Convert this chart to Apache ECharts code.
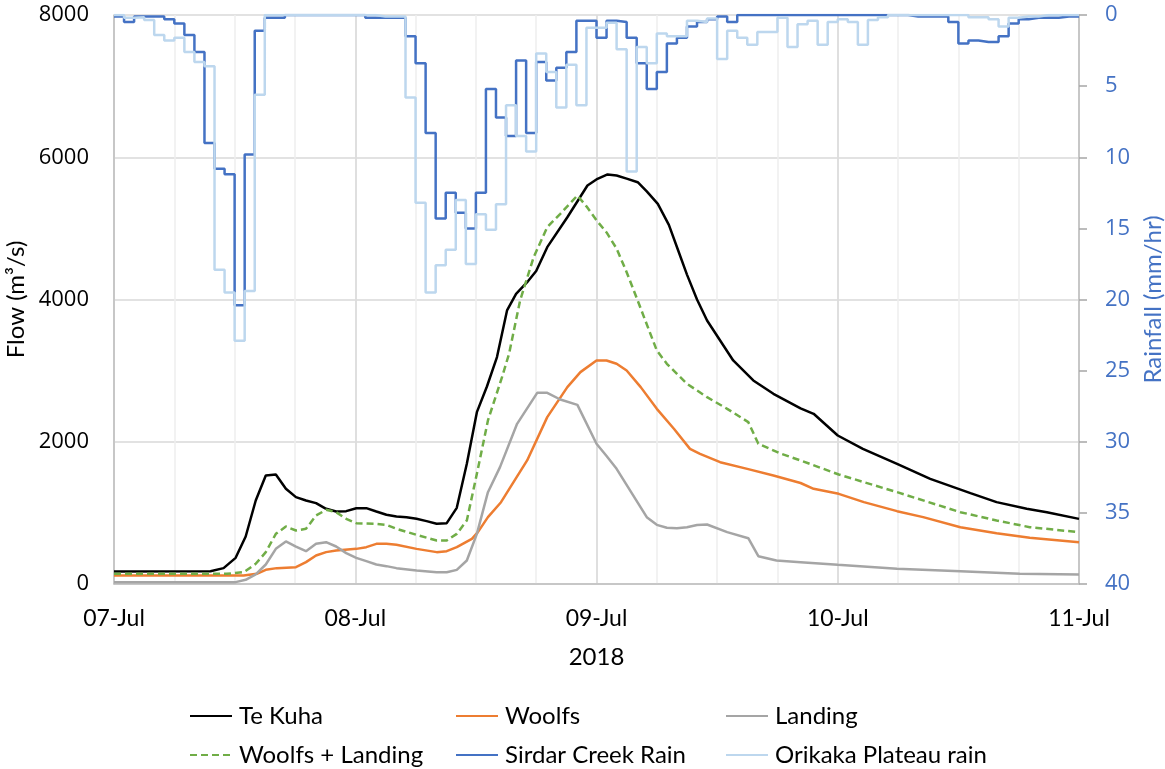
<!DOCTYPE html>
<html>
<head>
<meta charset="utf-8">
<script src="https://cdn.jsdelivr.net/npm/echarts@6/dist/echarts.min.js"></script>
<style>
html,body{margin:0;padding:0;background:#fff;}
#chart{width:1165px;height:769px;}
</style>
</head>
<body>
<div id="chart"></div>
<script>
// Time axis in hours from 07-Jul 00:00 (2018)
const dayLabels = ['07-Jul', '08-Jul', '09-Jul', '10-Jul', '11-Jul'];

// Flow (m3/s)
const teKuhaHours = [0,9.6,10.9,12.1,13.1,14.1,15.1,16.1,17.1,18.1,19.1,20.1,21.1,22.1,23.1,24.1,25.1,26.1,27.1,28.1,29.1,30.1,31.1,32.1,33.1,34.1,35.1,36.1,37.1,38.1,39.1,40,41.1,42,43.1,45.1,47.1,48.1,49.1,50,51,52.1,53,54.1,55.2,56.1,57,58,59,60.3,61.6,63.6,65.6,68.3,69.6,72,74.5,77.9,81.2,85.2,87.8,90.8,92.8,96];
const teKuhaFlow  = [176,180,223,368,668,1174,1526,1540,1339,1221,1174,1137,1057,1019,1024,1066,1066,1019,973,949,940,917,884,846,855,1071,1690,2416,2777,3190,3846,4080,4243,4400,4736,5157,5603,5697,5758,5744,5700,5649,5520,5345,5050,4700,4350,4000,3705,3424,3143,2862,2674,2470,2393,2088,1900,1690,1479,1277,1151,1057,1010,916];

const woolfsHours = [0,12.9,14.2,15.1,16.2,18.1,19.1,20.1,21.1,22.1,24.1,25.1,26.1,27.1,28.1,30.1,32.1,33.1,34.1,35.6,36.2,37.2,38.5,41.1,43.1,45.1,46.4,48,49,50,51,52.4,54,55.7,57.3,58.3,60.3,63,65.6,68.3,69.6,72.1,74.6,77.9,80.5,84.2,87.8,91.1,96];
const woolfsFlow  = [120,120,143,199,223,237,307,401,448,471,494,518,565,565,551,494,448,462,518,635,729,940,1150,1737,2346,2768,2979,3143,3143,3096,3002,2768,2463,2182,1900,1830,1713,1619,1526,1420,1338,1268,1151,1024,940,799,715,649,588];

const landingHours = [0,12.1,13.1,14.1,15.1,16.1,17.1,18.1,19.1,20.1,21.1,22.1,23.1,24.1,25.1,26.1,27.1,28.1,30.1,32.1,33.1,34.1,35.1,36.1,37.2,38.4,40.1,42.1,43.1,44.4,46.1,48,49,50,53,54,55,56,57,58,59,61,63.1,64.1,65.9,68.3,72,77.9,84.2,90.1,96];
const landingFlow  = [26,26,59,134,274,494,598,527,462,565,588,527,434,368,321,274,251,223,190,166,166,199,330,705,1291,1643,2252,2688,2688,2594,2519,1971,1800,1619,940,832,790,785,799,830,837,729,644,391,330,307,270,213,180,143,134];

const comboHours = [0,11.2,12.9,14.1,15.1,16.1,17.1,18.1,19.1,20.1,21.1,22.1,23.1,24.1,26.1,27.1,28.1,30.1,32.1,33.1,34.1,35.1,36.1,37.2,38.6,39.3,40.4,41.75,43.1,44.4,46.1,47,48,49,50,51,52,54,55,57,59,61,63.1,64.1,66.3,68.3,72.1,74.6,77.9,84.2,87.8,91.1,96];
const comboFlow  = [143,143,166,284,448,705,808,752,776,963,1043,1010,917,855,846,832,776,691,612,612,705,893,1549,2299,2909,3236,3986,4595,5017,5205,5462,5310,5114,4943,4715,4384,4020,3283,3096,2815,2627,2463,2276,1971,1835,1737,1540,1432,1291,1010,893,799,729];

// Hourly rainfall (mm/hr), value for hour h holds from h to h+1
const sirdarRain = [0.1,0.5,0.1,0.1,0.1,0.3,0.6,1.4,2.6,9.0,10.8,11.2,20.4,9.8,1.1,0.2,0.2,0,0,0,0,0,0,0,0,0.2,0.2,0.2,0.2,1.5,3.4,8.3,14.3,12.5,13.9,15.0,12.5,5.2,7.2,8.5,3.2,8.3,3.3,4.6,3.7,2.6,0.4,0.4,1.6,0.4,0.5,1.6,3.4,5.2,4.0,2.0,1.6,0.8,0.5,0.3,0.1,0.5,0,0,0,0,0,0,0,0,0,0,0,0,0,0,0,0,0,0.1,0.1,0.1,0.1,0.5,2.0,1.8,1.9,1.9,1.5,0.6,0.3,0.2,0.2,0.2,0.1,0.1];
const orikakaRain = [0,0.2,0.15,0.35,1.4,1.8,1.6,2.6,3.3,3.6,17.9,19.5,22.9,19.4,5.6,0,0,0,0,0,0,0,0,0,0,0,0.1,0.1,0.1,5.8,13.2,19.5,17.6,16.5,13.0,17.5,14.0,15.1,13.3,6.35,8.5,9.6,2.7,4.0,6.5,3.5,6.35,0.9,0.9,0.55,2.4,11.0,2.25,3.4,1.3,1.5,1.5,0.4,0.5,0.25,3.1,1.1,1.6,2.1,1.2,1.2,0.2,2.25,0.65,0.4,2.1,0.5,0.3,0.5,2.1,0.35,0.15,0,0,0,0,0,0,0,0,0.15,0.15,0.3,0.8,0.2,0.1,0.1,0,0,0,0];

function pairs(xs, ys) { return xs.map((x, i) => [x, ys[i]]); }
function hourly(vals) {
  const d = vals.map((v, h) => [h, v]);
  d.push([vals.length, vals[vals.length - 1]]);
  return d;
}

const chart = echarts.init(document.getElementById('chart'), null, {renderer: 'canvas'});
const txtFont = 'Lato';
const numFont = 'Open Sans';
const lw = 2.5;
const axisGray = '#BFBFBF';

function flowSeries(name, data, color, dashed) {
  return {
    name, type: 'line', xAxisIndex: 1, yAxisIndex: 0, data,
    showSymbol: false, symbol: 'none', smooth: false,
    lineStyle: {color, width: lw, type: dashed ? [7, 4] : 'solid'},
    itemStyle: {color},
    animation: false, z: 3
  };
}
function rainSeries(name, data, color) {
  return {
    name, type: 'line', xAxisIndex: 1, yAxisIndex: 1, data, step: 'end',
    showSymbol: false, symbol: 'none',
    lineStyle: {color, width: lw},
    itemStyle: {color},
    animation: false, z: 4
  };
}
function legendItem(left, top, name) {
  return {
    orient: 'horizontal', left, top,
    itemWidth: 42, itemHeight: 14, itemGap: 0,
    data: [name],
    itemStyle: {opacity: 0},
    selectedMode: false,
    textStyle: {fontFamily: txtFont, fontSize: 24, color: '#000', padding: [0, 0, 0, 2]}
  };
}

chart.setOption({
  animation: false,
  backgroundColor: '#fff',
  grid: {left: 114, right: 86, top: 15, bottom: 185, containLabel: false, outerBoundsMode: 'none'},
  legend: [
    legendItem(184, 699, 'Te Kuha'),
    legendItem(450, 699, 'Woolfs'),
    legendItem(720, 699, 'Landing'),
    legendItem(184, 738, 'Woolfs + Landing'),
    legendItem(450, 738, 'Sirdar Creek Rain'),
    legendItem(720, 738, 'Orikaka Plateau rain')
  ],
  xAxis: [
    {
      type: 'value', min: 0, max: 96, interval: 6,
      axisLine: {show: false, onZero: false}, axisTick: {show: false}, axisLabel: {show: false},
      splitLine: {show: true, lineStyle: {color: '#EEEEEE', width: 1.5}}
    },
    {
      type: 'value', min: 0, max: 96, interval: 24, position: 'bottom',
      name: '2018', nameLocation: 'middle', nameGap: 61,
      nameTextStyle: {fontFamily: txtFont, fontSize: 24, color: '#000'},
      axisLine: {show: true, onZero: false, lineStyle: {color: axisGray, width: 1.5}},
      axisTick: {show: false},
      axisLabel: {
        margin: 23, fontFamily: txtFont, fontSize: 23, color: '#000',
        formatter: v => dayLabels[Math.round(v / 24)] || ''
      },
      splitLine: {show: true, lineStyle: {color: '#D9D9D9', width: 1.5}}
    }
  ],
  yAxis: [
    {
      type: 'value', min: 0, max: 8000, interval: 2000, position: 'left',
      name: 'Flow (m³/s)', nameLocation: 'middle', nameGap: 84, nameRotate: 90,
      nameTextStyle: {fontFamily: txtFont, fontSize: 24, color: '#000'},
      axisLine: {show: true, onZero: false, lineStyle: {color: axisGray, width: 1.5}},
      axisTick: {show: false},
      axisLabel: {margin: 25, fontFamily: numFont, fontSize: 22, color: '#000', formatter: v => String(v)},
      splitLine: {show: true, lineStyle: {color: '#D9D9D9', width: 1.5}}
    },
    {
      type: 'value', min: 0, max: 40, interval: 5, position: 'right', inverse: true,
      name: 'Rainfall (mm/hr)', nameLocation: 'middle', nameGap: 62, nameRotate: 90,
      nameTextStyle: {fontFamily: txtFont, fontSize: 24, color: '#4472C4'},
      axisLine: {show: true, onZero: false, lineStyle: {color: axisGray, width: 1.5}},
      axisTick: {show: true, inside: false, length: 8, lineStyle: {color: '#A6A6A6', width: 1.5}},
      axisLabel: {margin: 26, fontFamily: numFont, fontSize: 22, color: '#4472C4', formatter: v => String(v)},
      splitLine: {show: false}
    }
  ],
  series: [
    flowSeries('Te Kuha', pairs(teKuhaHours, teKuhaFlow), '#000000', false),
    flowSeries('Woolfs', pairs(woolfsHours, woolfsFlow), '#ED7D31', false),
    flowSeries('Landing', pairs(landingHours, landingFlow), '#A5A5A5', false),
    flowSeries('Woolfs + Landing', pairs(comboHours, comboFlow), '#70AD47', true),
    rainSeries('Sirdar Creek Rain', hourly(sirdarRain), '#4472C4'),
    rainSeries('Orikaka Plateau rain', hourly(orikakaRain), '#BDD7EE')
  ]
});
</script>
</body>
</html>
